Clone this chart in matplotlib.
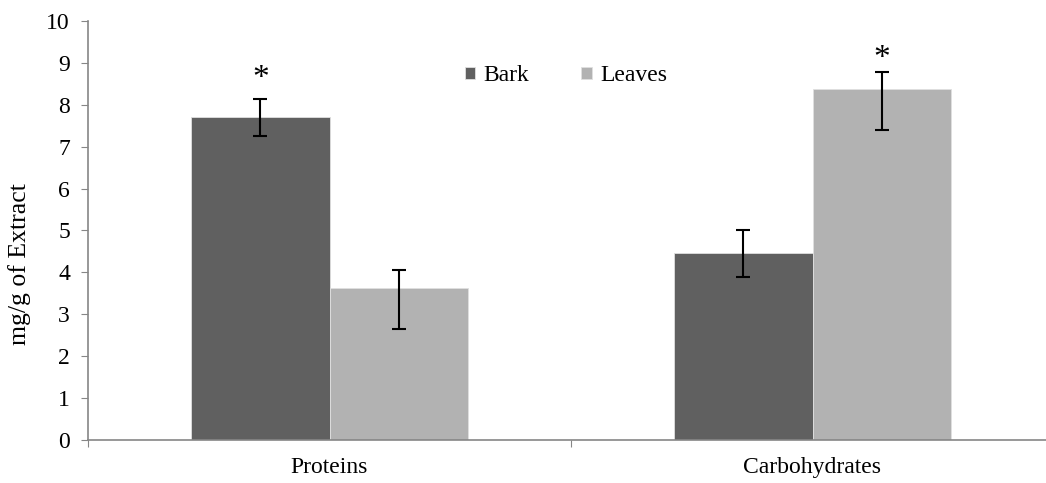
import numpy as np
import matplotlib
matplotlib.use("Agg")
import matplotlib.pyplot as plt

plt.rcParams['font.family'] = ['Liberation Serif', 'DejaVu Serif']

# data
categories = ['Proteins', 'Carbohydrates']
bark = [7.7, 4.46]
bark_lo = [0.45, 0.56]
bark_hi = [0.45, 0.55]
leaves = [3.63, 8.38]
leaves_lo = [0.98, 0.98]
leaves_hi = [0.43, 0.41]
star_on = [('Bark', 0), ('Leaves', 1)]

fig = plt.figure(figsize=(10.46, 4.83), dpi=100)
ax = fig.add_axes([88 / 1046, 43 / 483, (1054 - 88) / 1046, (440 - 21) / 483])

x = np.arange(len(categories))
w = 0.286
err_kw = dict(ecolor='black', elinewidth=1.5, capsize=5, capthick=1.5)
ax.bar(x - w / 2, bark, w, color='#606060', edgecolor='#e0e0e0', linewidth=0.6,
       yerr=[bark_lo, bark_hi], error_kw=err_kw, label='Bark')
ax.bar(x + w / 2, leaves, w, color='#b2b2b2', edgecolor='#e0e0e0', linewidth=0.6,
       yerr=[leaves_lo, leaves_hi], error_kw=err_kw, label='Leaves')

# significance stars
for series, i in star_on:
    if series == 'Bark':
        ax.text(i - w / 2, bark[i] + bark_hi[i] + 0.46, '*', ha='center', va='center', fontsize=24)
    else:
        ax.text(i + w / 2, leaves[i] + leaves_hi[i] + 0.32, '*', ha='center', va='center', fontsize=24)

fs = 17
ax.set_xlim(-0.5, 1.5)
ax.set_ylim(0, 10)
ax.set_yticks(range(0, 11))
ax.set_xticks([-0.5, 0.5, 1.5])
ax.set_xticklabels([])
ax.set_xticks(x, minor=True)
ax.set_xticklabels(categories, minor=True)
ax.tick_params(axis='x', which='minor', length=0, pad=12, labelsize=fs)
ax.tick_params(axis='x', which='major', length=5, color='#868686', direction='out')
ax.tick_params(axis='y', length=5, color='#868686', labelsize=fs, pad=8)

for s in ['top', 'right']:
    ax.spines[s].set_visible(False)
for s in ['left', 'bottom']:
    ax.spines[s].set_color('#868686')
    ax.spines[s].set_linewidth(1.2)

ax.set_ylabel('mg/g of Extract', fontsize=18.5)
ax.yaxis.set_label_coords(-0.059, 0.42)

ax.legend(loc='upper left', bbox_to_anchor=(0.368, 0.945), ncol=2, frameon=False,
          fontsize=fs, handlelength=0.45, handleheight=0.45, handletextpad=0.35,
          columnspacing=2.2)

fig.savefig('out.png', dpi=100)
